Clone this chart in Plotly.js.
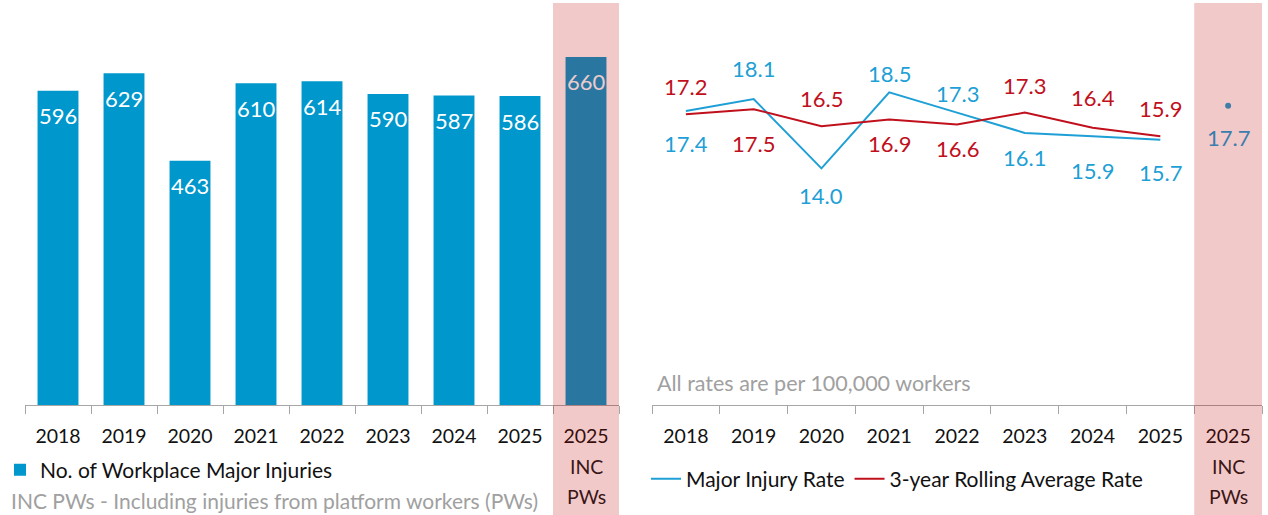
<!DOCTYPE html>
<html><head><meta charset="utf-8">
<script src="https://cdn.plot.ly/plotly-3.0.1.min.js"></script>
<style>html,body{margin:0;padding:0;background:#fff}#chart{width:1268px;height:515px}</style>
</head><body><div id="chart"></div>
<script>
// ---- data ----
const categories = ['2018','2019','2020','2021','2022','2023','2024','2025','2025 INC PWs'];
const tickLabels = ['2018','2019','2020','2021','2022','2023','2024','2025','2025'];
const extraTickLines = ['INC','PWs'];
const injuries = [596, 629, 463, 610, 614, 590, 587, 586, 660];
const rateYears = ['2018','2019','2020','2021','2022','2023','2024','2025'];
const majorRate = [17.4, 18.1, 14.0, 18.5, 17.3, 16.1, 15.9, 15.7];
const rollingAvg = [17.2, 17.5, 16.5, 16.9, 16.6, 17.3, 16.4, 15.9];
const incCategory = ['2025 INC PWs'];
const incRate = [17.7];

// ---- label placement (px, positive = up) ----
const majorShift = [-33, 31, -27, 19, 19, -25, -34, -33];
const rollingShift = [28, -34, 28, -24, -24, 27, 30, 28];
const incShift = [-32];

const W = 1268, H = 515, T = 20, B = 110;
const PH = H - T - B;
const FONT = 'Lato, "Open Sans", sans-serif';
const BAR_C = '#0097CC', BLUE = '#1E9FD5', RED = '#C0101C', GREY = '#A6A6A6';
const TINT_TEXT = '#3A1616';
const py = p => (H - B - p) / PH;   // pixel y -> paper y
const px = p => p / W;
const idx = c => categories.indexOf(c);

const traces = [
  {type:'bar', x:categories, y:injuries, xaxis:'x', yaxis:'y', name:'No. of Workplace Major Injuries',
   marker:{color:BAR_C}, hoverinfo:'x+y', legend:'legend'},
  {type:'scatter', mode:'lines', x:rateYears, y:majorRate, xaxis:'x2', yaxis:'y2', name:'Major Injury Rate',
   line:{color:BLUE, width:2}, legend:'legend2'},
  {type:'scatter', mode:'lines', x:rateYears, y:rollingAvg, xaxis:'x2', yaxis:'y2', name:'3-year Rolling Average Rate',
   line:{color:RED, width:2}, legend:'legend2'},
  {type:'scatter', mode:'markers', x:incCategory, y:incRate, xaxis:'x2', yaxis:'y2', name:'Major Injury Rate (INC PWs)',
   marker:{color:BLUE, size:6}, showlegend:false}
];

const annotations = [];
injuries.forEach((v,i) => annotations.push({x:i, y:v, xref:'x', yref:'y', text:String(v), showarrow:false,
  yshift:-25, font:{family:FONT, size:22, color: i === injuries.length-1 ? '#EACBCE' : '#FFFFFF'}}));
majorRate.forEach((v,i) => annotations.push({x:idx(rateYears[i]), y:v, xref:'x2', yref:'y2', text:v.toFixed(1), showarrow:false,
  yshift:majorShift[i], font:{family:FONT, size:22, color:BLUE}}));
rollingAvg.forEach((v,i) => annotations.push({x:idx(rateYears[i]), y:v, xref:'x2', yref:'y2', text:v.toFixed(1), showarrow:false,
  yshift:rollingShift[i], font:{family:FONT, size:22, color:RED}}));
incRate.forEach((v,i) => annotations.push({x:idx(incCategory[i]), y:v, xref:'x2', yref:'y2', text:v.toFixed(1), showarrow:false,
  yshift:incShift[i], font:{family:FONT, size:22, color:'#3A7DAE'}}));
// second and third lines of the "2025 INC PWs" tick label
['x','x2'].forEach(ax => extraTickLines.forEach((t,k) => annotations.push({x:idx('2025 INC PWs'), y:py(466 + 30*k),
  xref:ax, yref:'paper', text:t, showarrow:false, yanchor:'middle', font:{family:FONT, size:19.5, color:TINT_TEXT}})));
annotations.push({xref:'paper', yref:'paper', x:px(9), y:py(500), xanchor:'left', yanchor:'middle', showarrow:false,
  text:'INC PWs - Including injuries from platform workers (PWs)', font:{family:FONT, size:21, color:'#A0A0A0'}});
annotations.push({xref:'paper', yref:'paper', x:px(655), y:py(383), xanchor:'left', yanchor:'middle', showarrow:false,
  text:'All rates are per 100,000 workers', font:{family:FONT, size:21.5, color:'#A0A0A0'}});

const xAxisBase = {type:'category', tickmode:'array', tickvals:categories, ticktext:tickLabels,
  range:[-0.5, 8.5], showline:true, linecolor:GREY, linewidth:1, ticks:'outside', tickson:'boundaries',
  ticklen:8, tickcolor:GREY, showgrid:false, zeroline:false, fixedrange:true,
  tickfont:{family:FONT, size:19.5, color:'#111'}, ticklabelstandoff:14};
const yAxisBase = {showline:false, showgrid:false, zeroline:false, showticklabels:false, ticks:'', fixedrange:true};

const layout = {
  width:W, height:H, margin:{l:0, r:0, t:T, b:B}, paper_bgcolor:'#fff', plot_bgcolor:'rgba(0,0,0,0)',
  font:{family:FONT, color:'#111'}, bargap:0.38, showlegend:true,
  xaxis:Object.assign({}, xAxisBase, {domain:[px(25), px(619)], anchor:'y'}),
  yaxis:Object.assign({}, yAxisBase, {range:[0, PH/0.5273], anchor:'x'}),
  xaxis2:Object.assign({}, xAxisBase, {domain:[px(652), px(1262)], anchor:'y2'}),
  yaxis2:Object.assign({}, yAxisBase, {range:[0, PH/16.9], anchor:'x2'}),
  legend:{x:px(0), xanchor:'left', y:py(470), yanchor:'middle', orientation:'h', bgcolor:'rgba(0,0,0,0)',
    font:{family:FONT, size:21, color:'#111'}},
  legend2:{x:px(646), xanchor:'left', y:py(479), yanchor:'middle', orientation:'h', bgcolor:'rgba(0,0,0,0)',
    font:{family:FONT, size:21, color:'#111'}},
  annotations:annotations,
  shapes:[
    {type:'rect', xref:'x', yref:'paper', x0:7.5, x1:8.5, y0:py(515), y1:py(3), layer:'above',
     fillcolor:'rgba(192,0,0,0.21)', line:{width:0}},
    {type:'rect', xref:'x2', yref:'paper', x0:7.5, x1:8.5, y0:py(515), y1:py(3), layer:'above',
     fillcolor:'rgba(192,0,0,0.21)', line:{width:0}}
  ]
};
Plotly.newPlot('chart', traces, layout, {displayModeBar:false, staticPlot:true});
</script></body></html>
